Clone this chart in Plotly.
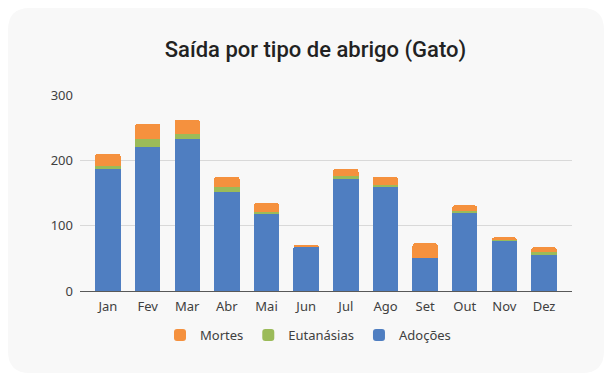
import plotly.graph_objects as go

# Saídas mensais de gatos do abrigo, por tipo
meses = ["Jan", "Fev", "Mar", "Abr", "Mai", "Jun", "Jul", "Ago", "Set", "Out", "Nov", "Dez"]
adocoes = [187, 221, 233, 152, 119, 67, 172, 160, 50, 120, 77, 56]
eutanasias = [4, 12, 7, 7, 2, 0, 4, 3, 0, 2, 1, 3]
mortes = [19, 23, 22, 16, 14, 4, 11, 12, 23, 9, 4, 8]

series_nomes = ["Adoções", "Eutanásias", "Mortes"]
series_cores = ["#4F7EC1", "#9BBB59", "#F5913E"]
yticks = [0, 100, 200, 300]

W, H = 611, 374
ML, MR, MT, MB = 80, 39, 95, 83
PW, PH = W - ML - MR, H - MT - MB


def px_to_paper(x, y):
    return (x - ML) / PW, (H - MB - y) / PH


def rounded_card(x0, y0, x1, y1, r):
    pts = {
        "a": px_to_paper(x0 + r, y0), "b": px_to_paper(x1 - r, y0),
        "c": px_to_paper(x1, y0), "d": px_to_paper(x1, y0 + r),
        "e": px_to_paper(x1, y1 - r), "f": px_to_paper(x1, y1),
        "g": px_to_paper(x1 - r, y1), "h": px_to_paper(x0 + r, y1),
        "i": px_to_paper(x0, y1), "j": px_to_paper(x0, y1 - r),
        "k": px_to_paper(x0, y0 + r), "l": px_to_paper(x0, y0),
    }
    p = {k: f"{v[0]:.5f},{v[1]:.5f}" for k, v in pts.items()}
    return (f"M {p['a']} L {p['b']} Q {p['c']} {p['d']} L {p['e']} "
            f"Q {p['f']} {p['g']} L {p['h']} Q {p['i']} {p['j']} "
            f"L {p['k']} Q {p['l']} {p['a']} Z")


fig = go.Figure()
for nome, valores, cor in zip(series_nomes, [adocoes, eutanasias, mortes], series_cores):
    fig.add_trace(go.Bar(x=meses, y=valores, name=nome, marker=dict(color=cor, line=dict(width=0))))

label_font = dict(family="Noto Sans", size=13, color="#404040")

fig.update_layout(
    width=W, height=H,
    margin=dict(l=ML, r=MR, t=MT, b=MB),
    paper_bgcolor="white",
    plot_bgcolor="rgba(0,0,0,0)",
    barmode="stack",
    bargap=0.36,
    barcornerradius=3,
    title=dict(
        text="Saída por tipo de abrigo (Gato)",
        x=315.5 / W, xanchor="center", xref="container",
        y=1 - 49 / H, yanchor="middle", yref="container",
        font=dict(family="Roboto", size=22, color="#222222", weight=500),
    ),
    xaxis=dict(
        range=[-0.705, 11.705],
        showgrid=False,
        showline=True, linecolor="#595959", linewidth=1,
        ticks="", tickfont=label_font, ticklabelstandoff=3,
        fixedrange=True,
    ),
    yaxis=dict(
        range=[0, 300], tickvals=yticks,
        showgrid=True, gridcolor="#d9d9d9", gridwidth=1,
        zeroline=False, showline=False,
        ticks="", tickfont=label_font, ticklabelstandoff=6,
        fixedrange=True,
    ),
    legend=dict(
        orientation="h", traceorder="reversed",
        x=(160 - ML) / PW, xanchor="left",
        y=px_to_paper(0, 320)[1], yanchor="top",
        font=label_font, bgcolor="rgba(0,0,0,0)",
    ),
    shapes=[dict(
        type="path", xref="paper", yref="paper",
        path=rounded_card(8, 8, 604, 373, 22),
        fillcolor="#f8f8f8", line=dict(width=0), layer="below",
    )],
)

fig.write_html("out.html")
